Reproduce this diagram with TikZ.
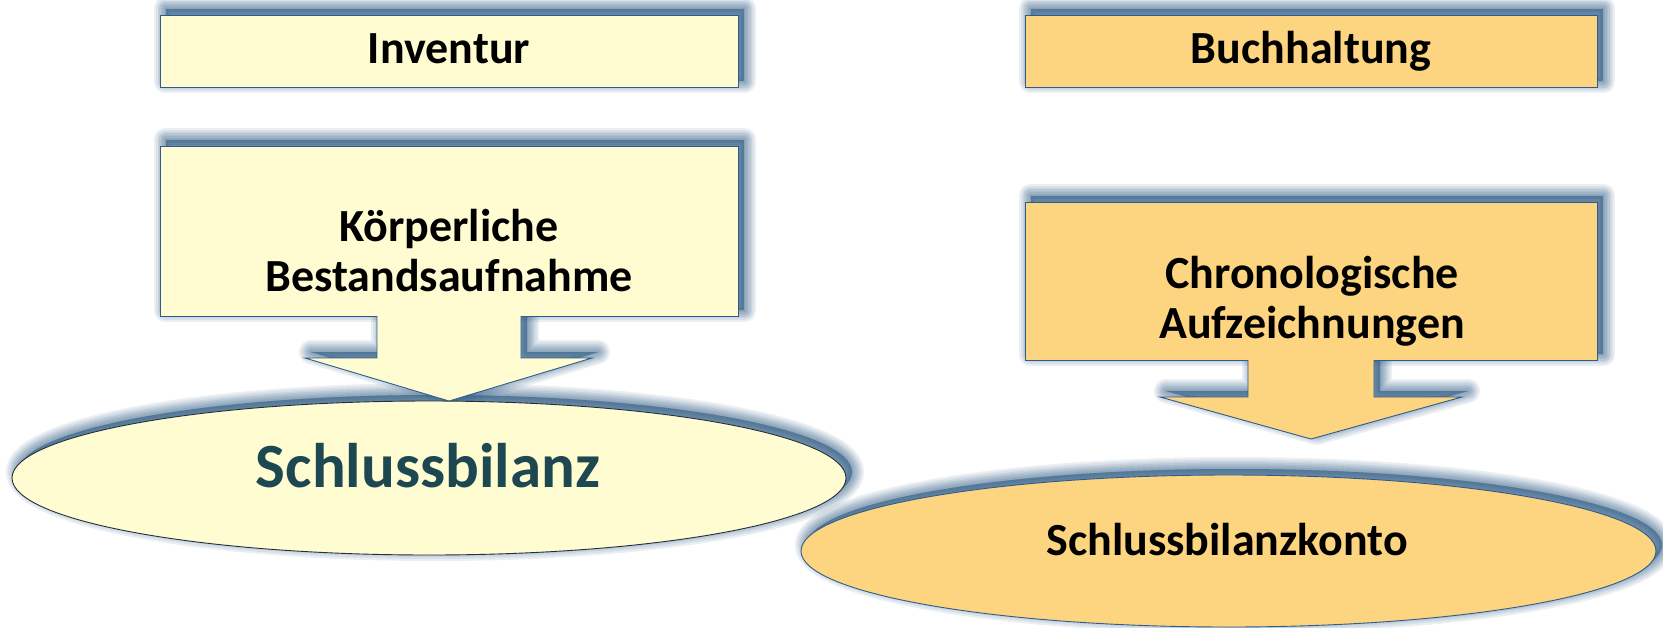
\documentclass[tikz,border=0pt]{standalone}
\usepackage{fontspec}
\setmainfont{Carlito}
\usetikzlibrary{shapes.geometric}
\pgfdeclarelayer{shadowlayer}
\pgfsetlayers{shadowlayer,main}
\definecolor{paleyellow}{HTML}{FFFCD2}
\definecolor{goldfill}{HTML}{FDD47F}
\definecolor{edgeblue}{HTML}{2F5C8A}
\definecolor{ellipseedge}{HTML}{22303C}
\definecolor{shadowblue}{HTML}{1F4E79}
\definecolor{tealtext}{HTML}{1D4852}
\tikzset{
  sl/.style={preaction={draw=shadowblue, fill=shadowblue, opacity=0.09, line width=#1, line join=round, transform canvas={xshift=6pt, yshift=6pt}}},
  softshadow/.style={sl=24pt, sl=20pt, sl=16pt, sl=13pt, sl=10pt, sl=7pt, sl=4pt, sl=1pt},
  box/.style={rectangle, draw=edgeblue, line width=0.9pt, inner sep=0pt},
  oval/.style={ellipse, line width=0.9pt, inner sep=0pt},
  lbl/.style={font=\fontsize{46}{50}\selectfont\bfseries, text=black},
  biglbl/.style={font=\fontsize{63}{70}\selectfont\bfseries, text=tealtext},
  arrowedge/.style={draw=edgeblue, line width=0.9pt, line join=miter},
}
\begin{document}
\begin{tikzpicture}[x=1pt, y=-1pt]
\useasboundingbox (0,0) rectangle (1663,627);
% boxes
\node[box, fill=paleyellow, minimum width=578pt, minimum height=72pt] (inv) at (449,51) {};
\node[box, fill=paleyellow, minimum width=578pt, minimum height=170pt] (kb) at (449,231) {};
\node[box, fill=goldfill, minimum width=572pt, minimum height=72pt] (buch) at (1311,51) {};
\node[box, fill=goldfill, minimum width=572pt, minimum height=158pt] (chron) at (1311,281) {};
% ellipses
\node[oval, draw=ellipseedge, fill=paleyellow, minimum width=834pt, minimum height=154pt] (ell1) at (429,478) {};
\node[oval, draw=edgeblue, fill=goldfill, minimum width=855pt, minimum height=152pt] (ell2) at (1228.5,551) {};
% block arrows
\fill[paleyellow] (377,314) -- (377,358) -- (305,358) -- (449,401) -- (592,358) -- (521,358) -- (521,314) -- cycle;
\draw[arrowedge] (377,316) -- (377,358) -- (305,358) -- (449,401) -- (592,358) -- (521,358) -- (521,316);
\fill[goldfill] (1248,358) -- (1248,397) -- (1160,397) -- (1311,439) -- (1462,397) -- (1374,397) -- (1374,358) -- cycle;
\draw[arrowedge] (1248,360) -- (1248,397) -- (1160,397) -- (1311,439) -- (1462,397) -- (1374,397) -- (1374,360);
% shadows
\begin{pgfonlayer}{shadowlayer}
\path[softshadow] (inv.north west) rectangle (inv.south east);
\path[softshadow] (kb.north west) rectangle (kb.south east);
\path[softshadow] (buch.north west) rectangle (buch.south east);
\path[softshadow] (chron.north west) rectangle (chron.south east);
\path[softshadow] (ell1.center) ellipse [x radius=417pt, y radius=77pt];
\path[softshadow] (ell2.center) ellipse [x radius=427.5pt, y radius=76pt];
\path[softshadow] (377,316) -- (377,358) -- (305,358) -- (449,401) -- (592,358) -- (521,358) -- (521,316) -- cycle;
\path[softshadow] (1248,360) -- (1248,397) -- (1160,397) -- (1311,439) -- (1462,397) -- (1374,397) -- (1374,360) -- cycle;
\end{pgfonlayer}
% texts
\node[lbl, anchor=base] (invT) at (449,63) {Inventur};
\node[lbl, align=center] (kbT) at (449,251) {Körperliche\\Bestandsaufnahme};
\node[lbl, anchor=base] (buchT) at (1311,63) {Buchhaltung};
\node[lbl, align=center] (chronT) at (1312,301) {Chronologische\\Aufzeichnungen};
\node[biglbl, anchor=base] (ell1T) at (428,487) {Schlussbilanz};
\node[lbl, anchor=base] (ell2T) at (1227,555) {Schlussbilanzkonto};
\end{tikzpicture}
\end{document}
